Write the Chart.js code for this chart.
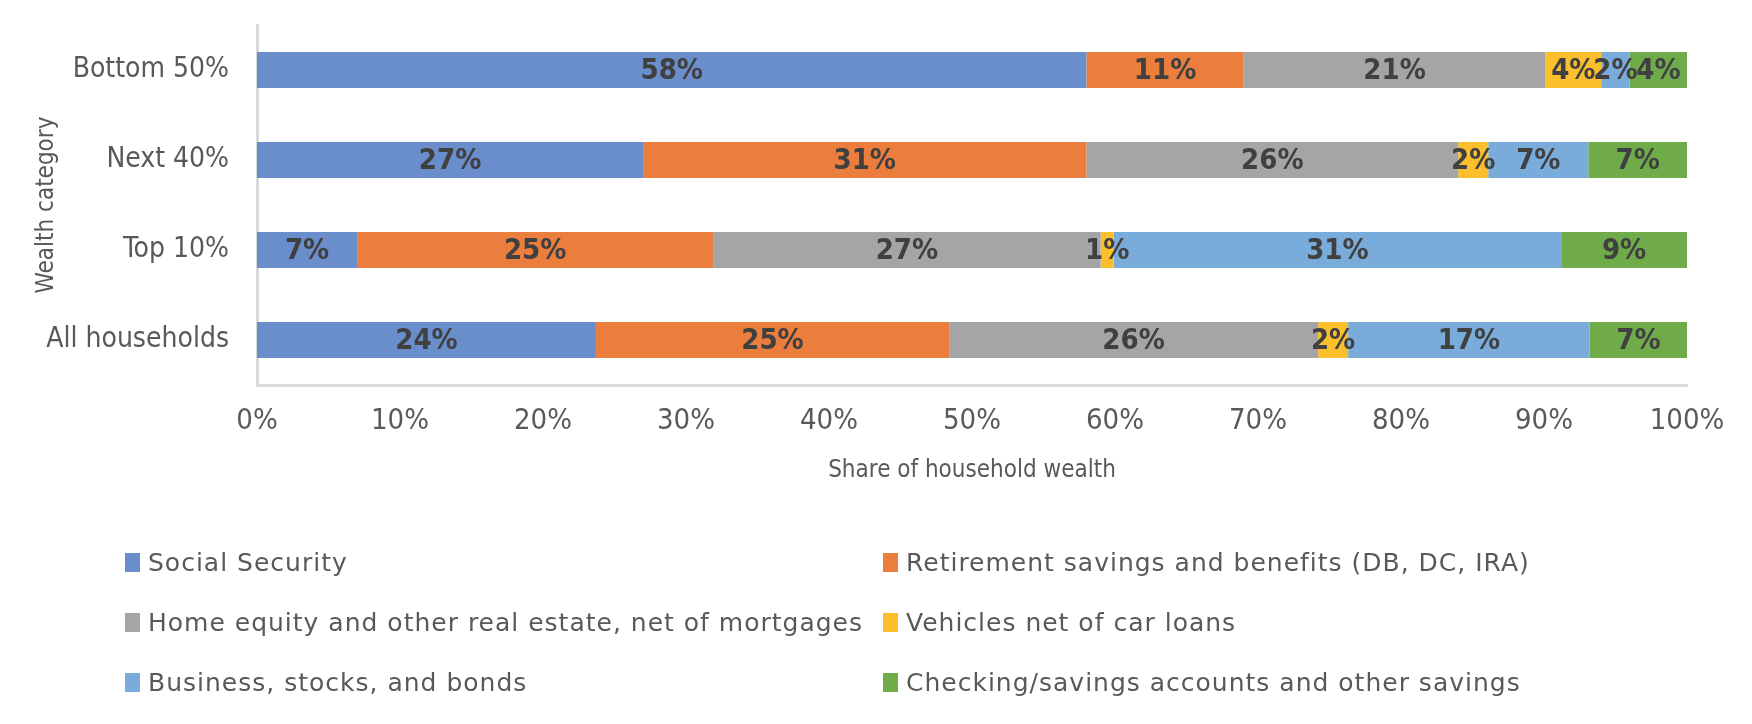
<!DOCTYPE html>
<html><head><meta charset="utf-8">
<script src="https://cdn.jsdelivr.net/npm/chart.js@4"></script>
<style>
html,body{margin:0;padding:0;background:#fff;}
#wrap{position:relative;width:1752px;height:724px;overflow:hidden;}
canvas{position:absolute;left:0;top:0;}
.leg{position:absolute;height:30px;display:flex;align-items:center;font-family:'DejaVu Sans',sans-serif;font-size:25px;letter-spacing:1px;color:#595959;white-space:nowrap;}
.leg i{display:inline-block;width:15px;height:19px;margin-right:8px;}
</style></head><body>
<div id="wrap"><canvas id="c" width="1752" height="724"></canvas><div id="legend"></div></div>
<script>
const categories = ['Bottom 50%', 'Next 40%', 'Top 10%', 'All households'];
const seriesNames = [
  'Social Security',
  'Retirement savings and benefits (DB, DC, IRA)',
  'Home equity and other real estate, net of mortgages',
  'Vehicles net of car loans',
  'Business, stocks, and bonds',
  'Checking/savings accounts and other savings'
];
const socialSecurity = [58, 27, 7, 23.7];
const retirement     = [11, 31, 24.9, 24.7];
const homeEquity     = [21.1, 26, 27.1, 25.8];
const vehicles       = [3.9, 2.1, 0.9, 2.1];
const business       = [2, 7, 31.3, 16.9];
const checking       = [4, 6.9, 8.8, 6.8];
const seriesColors = ['#6A8DCC', '#EB7E3C', '#A5A5A5', '#FBBF2E', '#79ACDB', '#70AB4A'];
const xTickLabels = ['0%','10%','20%','30%','40%','50%','60%','70%','80%','90%','100%'];

const NARROW = "'Liberation Sans Narrow','DejaVu Sans Condensed','Arial Narrow',sans-serif";
const allSeries = [socialSecurity, retirement, homeEquity, vehicles, business, checking];

const dataLabels = {
  id: 'dataLabels',
  afterDatasetsDraw(chart) {
    const ctx = chart.ctx;
    ctx.save();
    ctx.font = 'bold 29px ' + NARROW;
    ctx.fillStyle = '#404040';
    ctx.textAlign = 'center';
    ctx.textBaseline = 'middle';
    chart.data.datasets.forEach((ds, di) => {
      const meta = chart.getDatasetMeta(di);
      meta.data.forEach((bar, i) => {
        const v = ds.data[i];
        const x = (bar.x + bar.base) / 2;
        ctx.fillText(Math.round(v) + '%', x, bar.y + 1);
      });
    });
    ctx.restore();
  }
};

const chart = new Chart(document.getElementById('c'), {
  type: 'bar',
  data: {
    labels: categories,
    datasets: allSeries.map((d, i) => ({
      label: seriesNames[i],
      data: d,
      backgroundColor: seriesColors[i],
      borderWidth: 0,
      barPercentage: 0.4,
      categoryPercentage: 1.0
    }))
  },
  options: {
    indexAxis: 'y',
    responsive: false,
    animation: false,
    devicePixelRatio: 1,
    layout: { padding: { left: 20, right: 65, top: 25, bottom: 239 } },
    plugins: { legend: { display: false }, tooltip: { enabled: false } },
    scales: {
      x: {
        stacked: true, min: 0, max: 100,
        ticks: { stepSize: 10, callback: (v, i) => xTickLabels[i], color: '#595959', font: { family: NARROW, size: 29 }, padding: 19, maxRotation: 0 },
        grid: { display: false, drawTicks: false },
        border: { display: true, color: '#D9D9D9', width: 3 },
        title: { display: true, text: 'Share of household wealth', color: '#595959', font: { family: NARROW, size: 24 }, padding: { top: 14, bottom: 0 } },
        afterFit(s) { s.height = 100; }
      },
      y: {
        stacked: true,
        ticks: { color: '#595959', font: { family: NARROW, size: 28 }, padding: 28 },
        grid: { display: false, drawTicks: false },
        border: { display: true, color: '#D9D9D9', width: 3 },
        title: { display: true, text: 'Wealth category', color: '#595959', font: { family: NARROW, size: 24 }, padding: { top: 12, bottom: 0 } },
        afterFit(s) { s.width = 237; s.paddingTop = 0; s.paddingBottom = 0; }
      }
    }
  },
  plugins: [dataLabels]
});

// legend built from the chart's datasets
const legendPos = [[125, 562], [883, 562], [125, 622], [883, 622], [125, 682], [883, 682]];
const legEl = document.getElementById('legend');
chart.data.datasets.forEach((ds, i) => {
  const d = document.createElement('div');
  d.className = 'leg';
  d.style.left = legendPos[i][0] + 'px';
  d.style.top = (legendPos[i][1] - 15) + 'px';
  const sw = document.createElement('i');
  sw.style.background = ds.backgroundColor;
  d.appendChild(sw);
  d.appendChild(document.createTextNode(ds.label));
  legEl.appendChild(d);
});
</script>
</body></html>
